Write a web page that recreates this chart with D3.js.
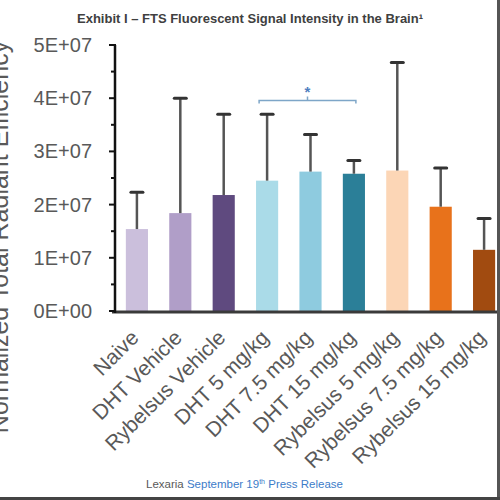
<!DOCTYPE html>
<html><head><meta charset="utf-8">
<script src="https://cdn.jsdelivr.net/npm/d3@7"></script>
<style>body{margin:0;background:#fff}svg{display:block}</style>
</head><body><svg id="c" width="500" height="500"></svg>
<script>
const categories = ["Naive","DHT Vehicle","Rybelsus Vehicle","DHT 5 mg/kg","DHT 7.5 mg/kg","DHT 15 mg/kg","Rybelsus 5 mg/kg","Rybelsus 7.5 mg/kg","Rybelsus 15 mg/kg"];
const means  = [1.54e7, 1.84e7, 2.18e7, 2.45e7, 2.62e7, 2.58e7, 2.64e7, 1.96e7, 1.15e7];
const errors = [0.69e7, 2.16e7, 1.52e7, 1.25e7, 0.70e7, 0.25e7, 2.03e7, 0.73e7, 0.59e7];
const colors = ["#cbbfdc","#b09ec8","#5f4a7f","#aadbe8","#8ecbdf","#2b7f98","#fcd6b6","#e8721b","#a14b10"];
const yTicks = [0, 1e7, 2e7, 3e7, 4e7, 5e7];
const yTickLabels = ["0E+00","1E+07","2E+07","3E+07","4E+07","5E+07"];
const yMinorTicks = [5e6, 1.5e7, 2.5e7, 3.5e7, 4.5e7];
const sigPair = ["DHT 5 mg/kg", "DHT 15 mg/kg"];

const svg = d3.select("#c");
const x = d3.scaleBand().domain(categories).range([115, 506]).paddingInner(0.49).paddingOuter(0.25);
const y = d3.scaleLinear().domain([0, 5e7]).range([311, 45]);

// title
svg.append("text").attr("x", 250).attr("y", 23).attr("text-anchor", "middle")
  .attr("font-family", "Liberation Sans, Arial, sans-serif").attr("font-weight", "bold")
  .attr("font-size", 13).attr("fill", "#404040")
  .text("Exhibit I \u2013 FTS Fluorescent Signal Intensity in the Brain\u00b9");

// y title (partly cut at the left edge, as in the reference)
svg.append("text").attr("transform", "translate(8,237) rotate(-90)").attr("text-anchor", "middle")
  .attr("font-family", "Liberation Sans, Arial, sans-serif").attr("font-size", 25).attr("fill", "#595959")
  .text("Normalized Total Radiant Efficiency");

// bars
const g = svg.append("g");
g.selectAll("rect.bar").data(categories).join("rect").attr("class", "bar")
  .attr("x", d => x(d)).attr("width", x.bandwidth())
  .attr("y", (d, i) => y(means[i])).attr("height", (d, i) => y(0) - y(means[i]))
  .attr("fill", (d, i) => colors[i]);

// error bars
const eb = g.selectAll("g.err").data(categories).join("g").attr("class", "err");
eb.append("line")
  .attr("x1", d => x(d) + x.bandwidth() / 2).attr("x2", d => x(d) + x.bandwidth() / 2)
  .attr("y1", (d, i) => y(means[i])).attr("y2", (d, i) => y(means[i] + errors[i]))
  .attr("stroke", "#555").attr("stroke-width", 2.5);
eb.append("line")
  .attr("x1", d => x(d) + x.bandwidth() / 2 - 6).attr("x2", d => x(d) + x.bandwidth() / 2 + 6)
  .attr("y1", (d, i) => y(means[i] + errors[i])).attr("y2", (d, i) => y(means[i] + errors[i]))
  .attr("stroke", "#333").attr("stroke-width", 3).attr("stroke-linecap", "round");

// x axis line
svg.append("line").attr("x1", 112).attr("x2", 500).attr("y1", y(0) + 1).attr("y2", y(0) + 1)
  .attr("stroke", "#3a3a3a").attr("stroke-width", 3);

// y axis
const ya = svg.append("g");
ya.append("line").attr("x1", 115).attr("x2", 115).attr("y1", y(5e7)).attr("y2", y(0) + 2)
  .attr("stroke", "#111").attr("stroke-width", 2.5);
ya.selectAll("line.maj").data(yTicks).join("line").attr("class", "maj")
  .attr("x1", 109).attr("x2", 116).attr("y1", d => y(d)).attr("y2", d => y(d))
  .attr("stroke", "#111").attr("stroke-width", 2);
ya.selectAll("line.min").data(yMinorTicks).join("line").attr("class", "min")
  .attr("x1", 111).attr("x2", 116).attr("y1", d => y(d)).attr("y2", d => y(d))
  .attr("stroke", "#111").attr("stroke-width", 2);
ya.selectAll("text").data(yTicks).join("text")
  .attr("x", 92).attr("y", d => y(d)).attr("dy", "0.35em").attr("text-anchor", "end")
  .attr("font-family", "Liberation Sans, Arial, sans-serif").attr("font-size", 20).attr("fill", "#595959")
  .text((d, i) => yTickLabels[i]);

// x labels
svg.selectAll("text.xl").data(categories).join("text").attr("class", "xl")
  .attr("transform", d => `translate(${x(d) + x.bandwidth() / 2 + 3},339) rotate(-45)`)
  .attr("text-anchor", "end")
  .attr("font-family", "Liberation Sans, Arial, sans-serif").attr("font-size", 21).attr("fill", "#595959")
  .text(d => d);

// significance bracket
const sx1 = x(sigPair[0]) + x.bandwidth() / 2 - 8, sx2 = x(sigPair[1]) + x.bandwidth() / 2 + 2;
const sy = 100.5;
svg.append("path").attr("d", `M${sx1},${sy + 3}V${sy}H${sx2}V${sy + 3}`)
  .attr("fill", "none").attr("stroke", "#7ea6c8").attr("stroke-width", 1.5);
svg.append("line").attr("x1", (sx1 + sx2) / 2).attr("x2", (sx1 + sx2) / 2).attr("y1", sy - 4).attr("y2", sy)
  .attr("stroke", "#7ea6c8").attr("stroke-width", 1.5);
svg.append("text").attr("x", (sx1 + sx2) / 2).attr("y", sy - 4).attr("text-anchor", "middle")
  .attr("font-family", "Liberation Sans, Arial, sans-serif").attr("font-size", 15).attr("font-weight", "bold")
  .attr("fill", "#4f7fc0").text("*");

// footer
const ft = svg.append("text").attr("x", 146).attr("y", 488)
  .attr("font-family", "Liberation Sans, Arial, sans-serif").attr("font-size", 11.5);
ft.append("tspan").attr("fill", "#595959").text("Lexaria ");
ft.append("tspan").attr("fill", "#3d7cc9").text("September 19");
ft.append("tspan").attr("fill", "#3d7cc9").attr("font-size", 7).attr("dy", -4).text("th");
ft.append("tspan").attr("fill", "#3d7cc9").attr("dy", 4).text(" Press Release");

// frame
svg.append("line").attr("x1", 498.5).attr("x2", 498.5).attr("y1", 0).attr("y2", 500).attr("stroke", "#555").attr("stroke-width", 3);
svg.append("line").attr("x1", 0).attr("x2", 500).attr("y1", 498.5).attr("y2", 498.5).attr("stroke", "#444").attr("stroke-width", 3);
</script></body></html>
